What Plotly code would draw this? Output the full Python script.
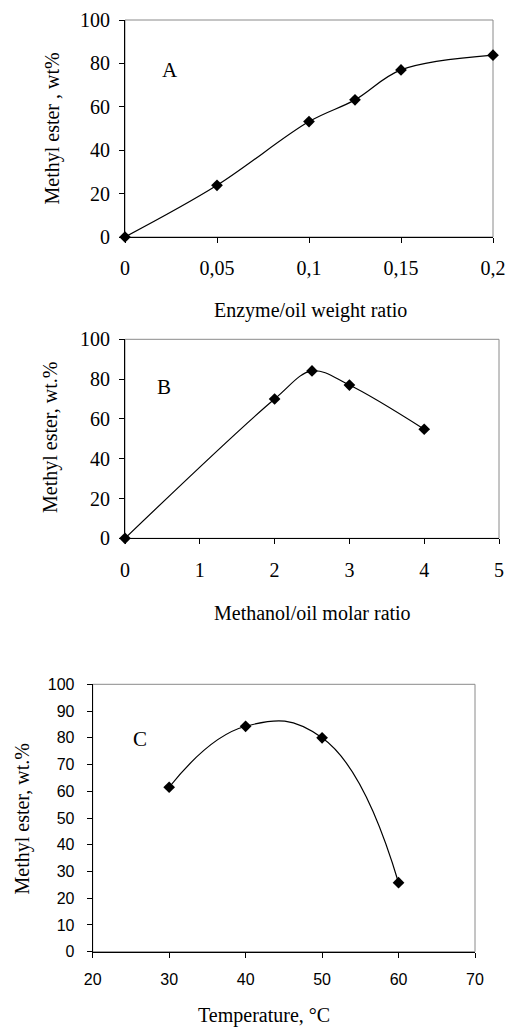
import plotly.graph_objects as go

# Panel A data
enzyme_ratio = [0, 0.05, 0.1, 0.125, 0.15, 0.2]
ester_a = [0, 23.8, 53.2, 63.2, 77.0, 83.8]
xticks_a = [0, 0.05, 0.1, 0.15, 0.2]
xticklabels_a = ["0", "0,05", "0,1", "0,15", "0,2"]

# Panel B data
methanol_ratio = [0, 2, 2.5, 3, 4]
ester_b = [0, 70.0, 84.1, 77.0, 54.8]

# Panel C data
temperature = [30, 40, 50, 60]
ester_c = [61.5, 84.3, 80.0, 25.8]

SERIF = "Liberation Serif"
SANS = "Liberation Sans"
W, H = 507, 1028

def px_x(p):
    return p / W

def px_y(p):
    return 1 - p / H

fig = go.Figure()

marker_style = dict(symbol="diamond", size=9, color="black")

fig.add_trace(go.Scatter(x=enzyme_ratio, y=ester_a, mode="lines+markers",
                         line=dict(color="black", width=1.2, shape="spline", smoothing=1),
                         marker=marker_style, cliponaxis=False,
                         xaxis="x", yaxis="y"))
fig.add_trace(go.Scatter(x=methanol_ratio, y=ester_b, mode="lines+markers",
                         line=dict(color="black", width=1.2, shape="spline", smoothing=1),
                         marker=marker_style, cliponaxis=False,
                         xaxis="x2", yaxis="y2"))
fig.add_trace(go.Scatter(x=temperature, y=ester_c, mode="lines+markers",
                         line=dict(color="black", width=1.2, shape="spline", smoothing=1.3),
                         marker=marker_style, cliponaxis=False,
                         xaxis="x3", yaxis="y3"))

common = dict(showline=True, linecolor="black", linewidth=1, showgrid=False,
              zeroline=False, ticks="outside", ticklen=5, tickcolor="black",
              tickwidth=1, automargin=False)

serif_tick = dict(family=SERIF, size=20, color="black")
sans_tick = dict(family=SANS, size=16, color="black")

fig.update_layout(
    width=W, height=H, showlegend=False,
    paper_bgcolor="white", plot_bgcolor="white",
    margin=dict(l=0, r=0, t=0, b=0, pad=0, autoexpand=False),
    xaxis=dict(domain=[px_x(125), px_x(493)], range=[0, 0.2], anchor="y",
               tickvals=xticks_a, ticktext=xticklabels_a, tickfont=serif_tick,
               ticklabelstandoff=8, **common),
    yaxis=dict(domain=[px_y(237), px_y(20)], range=[0, 100], anchor="x",
               tickvals=[0, 20, 40, 60, 80, 100], tickfont=serif_tick,
               ticklabelstandoff=5, **common),
    xaxis2=dict(domain=[px_x(125), px_x(499)], range=[0, 5], anchor="y2",
                tickvals=[0, 1, 2, 3, 4, 5], tickfont=serif_tick,
                ticklabelstandoff=9, **common),
    yaxis2=dict(domain=[px_y(538.3), px_y(339.3)], range=[0, 100], anchor="x2",
                tickvals=[0, 20, 40, 60, 80, 100], tickfont=serif_tick,
                ticklabelstandoff=5, **common),
    xaxis3=dict(domain=[px_x(92.7), px_x(475)], range=[20, 70], anchor="y3",
                tickvals=[20, 30, 40, 50, 60, 70], tickfont=sans_tick,
                ticklabelstandoff=8, **common),
    yaxis3=dict(domain=[px_y(951.7), px_y(684.3)], range=[0, 100], anchor="x3",
                tickvals=list(range(0, 101, 10)), tickfont=sans_tick,
                ticklabelstandoff=9, **common),
)

# light frame boxes
for xr, yr in [("x", "y"), ("x2", "y2"), ("x3", "y3")]:
    fig.add_shape(type="rect", xref=f"{xr} domain", yref=f"{yr} domain",
                  x0=0, x1=1, y0=0, y1=1, line=dict(color="#8a8a8a", width=1),
                  layer="below")

title_font = dict(family=SERIF, size=20, color="black")
annotations = [
    dict(text="Enzyme/oil weight ratio", x=px_x(310), y=px_y(310)),
    dict(text="Methanol/oil molar ratio", x=px_x(312), y=px_y(613)),
    dict(text="Temperature, °C", x=px_x(264), y=px_y(1015)),
    dict(text="Methyl ester , wt%", x=px_x(52), y=px_y(128.5), textangle=-90),
    dict(text="Methyl ester, wt.%", x=px_x(50), y=px_y(438), textangle=-90),
    dict(text="Methyl ester, wt.%", x=px_x(22), y=px_y(819.5), textangle=-90),
]
for a in annotations:
    fig.add_annotation(xref="paper", yref="paper", showarrow=False,
                       xanchor="center", yanchor="middle", font=title_font, **a)

letter_font = dict(family=SERIF, size=21, color="black")
fig.add_annotation(text="A", x=0.0245, y=77, xref="x", yref="y", showarrow=False, font=letter_font)
fig.add_annotation(text="B", x=0.52, y=76, xref="x2", yref="y2", showarrow=False, font=letter_font)
fig.add_annotation(text="C", x=26.2, y=79.4, xref="x3", yref="y3", showarrow=False, font=letter_font)

fig.write_html("out.html", config={"displayModeBar": False},
               post_script="document.body.style.margin='0px';")
